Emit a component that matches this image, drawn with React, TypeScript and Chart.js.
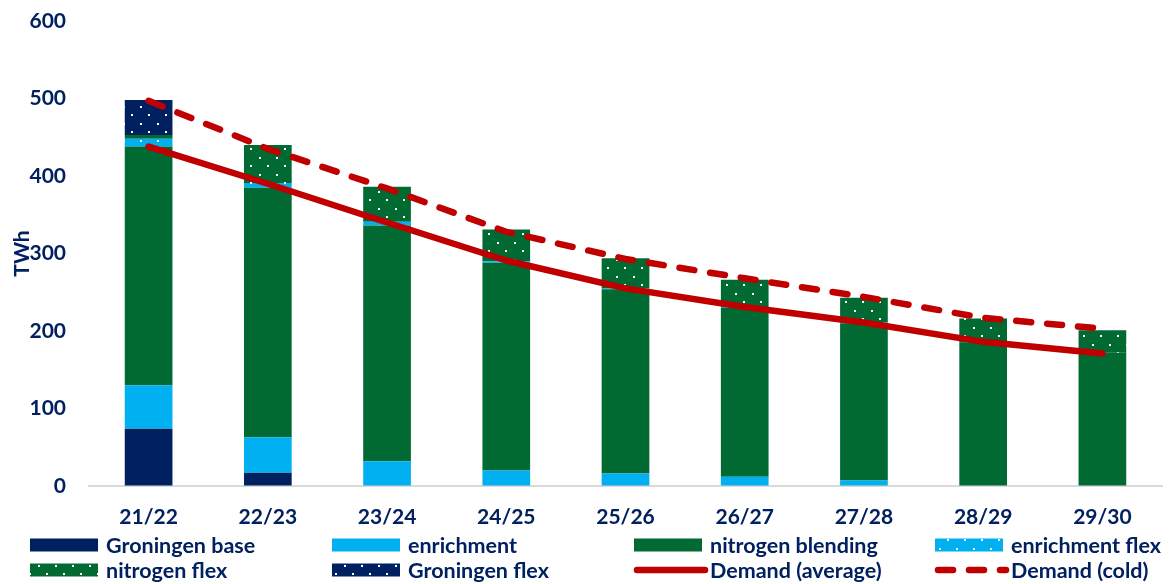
import React, { useEffect, useRef } from 'react';
import { Chart, registerables } from 'chart.js';

Chart.register(...registerables);

const categories = ['21/22', '22/23', '23/24', '24/25', '25/26', '26/27', '27/28', '28/29', '29/30'];
const groningenBase = [74, 17, 0, 0, 0, 0, 0, 0, 0];
const enrichment = [56, 46, 32, 20, 16, 12, 7, 0, 0];
const nitrogenBlending = [308, 322, 304, 268, 238, 218, 203, 185, 172];
const enrichmentFlex = [10, 6, 5, 2, 1, 1, 1, 0, 0];
const nitrogenFlex = [5, 49, 45, 41, 39, 35, 32, 31, 29];
const groningenFlex = [45, 0, 0, 0, 0, 0, 0, 0, 0];
const demandAverage = [438, 390, 340, 291, 255, 231, 211, 186, 171];
const demandCold = [497, 435, 384, 328, 293, 268, 244, 217, 203];
const yTickValues = [0, 100, 200, 300, 400, 500, 600];

const NAVY = '#002060';
const LIGHTBLUE = '#00b0f0';
const GREEN = '#006a32';
const RED = '#c00000';
const TEXT = '#002060';
const FONT = 'Lato';
const FSIZE = 21;
const LEGEND_FSIZE = 21.5;
const DASH = [15, 16];

function makePattern(bg: string): CanvasPattern | string {
  const c = document.createElement('canvas');
  c.width = 17;
  c.height = 17;
  const ctx = c.getContext('2d');
  if (!ctx) return bg;
  ctx.fillStyle = bg;
  ctx.fillRect(0, 0, 17, 17);
  ctx.fillStyle = '#ffffff';
  ctx.fillRect(4, 4, 2, 2);
  ctx.fillRect(12, 12, 2, 2);
  return ctx.createPattern(c, 'repeat') || bg;
}

export default function App() {
  const ref = useRef<HTMLCanvasElement | null>(null);

  useEffect(() => {
    if (!ref.current) return;
    const enrichFlexPat = makePattern(LIGHTBLUE);
    const nitroFlexPat = makePattern(GREEN);
    const groFlexPat = makePattern(NAVY);

    const legendItems: any[] = [
      { label: 'Groningen base', kind: 'box', fill: NAVY },
      { label: 'enrichment', kind: 'box', fill: LIGHTBLUE },
      { label: 'nitrogen blending', kind: 'box', fill: GREEN },
      { label: 'enrichment flex', kind: 'box', fill: enrichFlexPat },
      { label: 'nitrogen flex', kind: 'box', fill: nitroFlexPat },
      { label: 'Groningen flex', kind: 'box', fill: groFlexPat },
      { label: 'Demand (average)', kind: 'line', dash: [] },
      { label: 'Demand (cold)', kind: 'line', dash: DASH },
    ];
    const colX = [30, 332, 634, 935];
    const rowY = [545, 570];

    const legendPlugin = {
      id: 'customLegend',
      afterDraw(chart: any) {
        const ctx: CanvasRenderingContext2D = chart.ctx;
        ctx.save();
        legendItems.forEach((it, i) => {
          const x = colX[i % 4];
          const y = rowY[Math.floor(i / 4)];
          if (it.kind === 'box') {
            ctx.fillStyle = it.fill;
            ctx.fillRect(x, y - 6.5, 68, 13);
          } else {
            ctx.strokeStyle = RED;
            ctx.lineWidth = 6.5;
            ctx.lineCap = 'round';
            ctx.setLineDash(it.dash);
            ctx.beginPath();
            ctx.moveTo(x + 3, y);
            ctx.lineTo(x + 71, y);
            ctx.stroke();
            ctx.setLineDash([]);
          }
          ctx.fillStyle = TEXT;
          ctx.font = `bold ${LEGEND_FSIZE}px ${FONT}`;
          ctx.textBaseline = 'middle';
          ctx.textAlign = 'left';
          ctx.fillText(it.label, x + 76, y + 1);
        });
        ctx.restore();
      },
    };

    const barBase = { type: 'bar', stack: 'bars', order: 1, borderWidth: 0, barPercentage: 0.4, categoryPercentage: 1 };
    const lineBase = {
      type: 'line', order: 0, borderColor: RED, backgroundColor: RED, borderWidth: 6.5, pointRadius: 0,
      borderCapStyle: 'round', borderJoinStyle: 'round', tension: 0, fill: false,
    };
    const tickFont = { family: FONT, size: FSIZE, weight: 'bold' };

    const chart = new Chart(ref.current, {
      type: 'bar',
      data: {
        labels: categories,
        datasets: [
          { ...barBase, label: 'Groningen base', data: groningenBase, backgroundColor: NAVY },
          { ...barBase, label: 'enrichment', data: enrichment, backgroundColor: LIGHTBLUE },
          { ...barBase, label: 'nitrogen blending', data: nitrogenBlending, backgroundColor: GREEN },
          { ...barBase, label: 'enrichment flex', data: enrichmentFlex, backgroundColor: enrichFlexPat },
          { ...barBase, label: 'nitrogen flex', data: nitrogenFlex, backgroundColor: nitroFlexPat },
          { ...barBase, label: 'Groningen flex', data: groningenFlex, backgroundColor: groFlexPat },
          { ...lineBase, label: 'Demand (average)', data: demandAverage, stack: 'avg' },
          { ...lineBase, label: 'Demand (cold)', data: demandCold, stack: 'cold', borderDash: DASH },
        ] as any,
      },
      options: {
        responsive: false,
        animation: false,
        devicePixelRatio: 1,
        layout: { padding: { top: 21, right: 14, bottom: 58, left: 0 } },
        plugins: { legend: { display: false }, tooltip: { enabled: false }, title: { display: false } },
        scales: {
          x: {
            stacked: true,
            grid: { display: false, drawTicks: false },
            border: { display: true, color: '#d9d9d9', width: 2 },
            ticks: { color: TEXT, font: tickFont, padding: 19 },
            afterFit: (s: any) => { s.height = 40; },
          },
          y: {
            stacked: true,
            min: 0,
            max: 600,
            afterBuildTicks: (s: any) => { s.ticks = yTickValues.map((v) => ({ value: v })); },
            grid: { display: true, drawOnChartArea: false, drawTicks: true, tickLength: 23, color: 'rgba(0,0,0,0)' },
            border: { display: false },
            ticks: { color: TEXT, font: tickFont, padding: 0 },
            title: { display: true, text: 'TWh', color: TEXT, font: tickFont, padding: { top: 10, bottom: 0 } },
            afterFit: (s: any) => { s.width = 89; },
          },
        },
      } as any,
      plugins: [legendPlugin],
    });
    return () => chart.destroy();
  }, []);

  return (
    <div style={{ position: 'fixed', left: 0, top: 0, width: 1176, height: 584, background: '#fff' }}>
      <canvas ref={ref} width={1176} height={584} style={{ width: 1176, height: 584 }} />
    </div>
  );
}
